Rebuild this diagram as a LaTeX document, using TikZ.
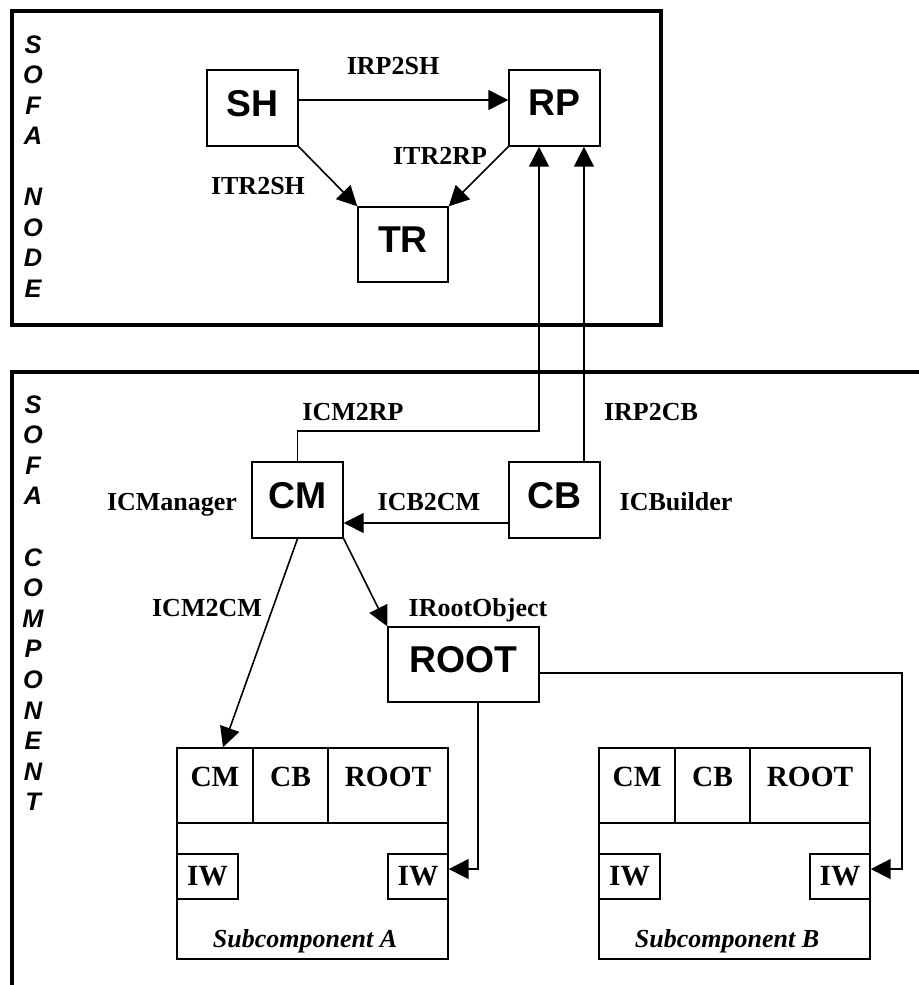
\documentclass[tikz,border=0pt]{standalone}
\usepackage{fontspec}
\setmainfont{Liberation Serif}
\setsansfont{Liberation Sans}
\usetikzlibrary{arrows.meta}
\begin{document}
\begin{tikzpicture}[x=0.75pt,y=-0.75pt,
  frame/.style={line width=3pt, line join=miter},
  bigbox/.style={draw, line width=1.1pt, rectangle, inner sep=0pt,
    font=\sffamily\bfseries\fontsize{28}{30}\selectfont, text depth=7.5pt},
  conn/.style={line width=1.2pt},
  arr/.style={conn, -{Triangle[length=15pt,width=15pt]}},
  lab/.style={font=\rmfamily\bfseries\fontsize{19.5}{22}\selectfont, anchor=base, inner sep=0pt},
  vlet/.style={font=\sffamily\bfseries\itshape\fontsize{19}{21}\selectfont, anchor=base, inner sep=0pt},
  cell/.style={draw, line width=1.1pt, inner sep=0pt,
    font=\rmfamily\bfseries\fontsize{22}{24}\selectfont},
  topcell/.style={cell, text depth=12.75pt, minimum height=56.25pt},
  iwbox/.style={cell, minimum height=33.75pt},
  subbox/.style={draw, line width=1.1pt, inner sep=0pt, minimum width=203.25pt, minimum height=158.25pt},
  sublab/.style={font=\rmfamily\bfseries\itshape\fontsize{19.5}{22}\selectfont, anchor=base, inner sep=0pt},
]
\useasboundingbox (0,0) rectangle (919,985);

% frames
\draw[frame] (12,11) rectangle (661,325);
\draw[frame] (919,372) -- (12,372) -- (12,985);

% vertical titles
\foreach \ch/\i in {S/0,O/1,F/2,A/3,N/5,O/6,D/7,E/8}
  \node[vlet] (vn\i) at (33,{53+\i*30.5}) {\ch};
\foreach \ch/\i in {S/0,O/1,F/2,A/3,C/5,O/6,M/7,P/8,O/9,N/10,E/11,N/12,T/13}
  \node[vlet] (vc\i) at (33,{413+\i*30.6}) {\ch};

% node boxes
\node[bigbox, minimum width=68.25pt, minimum height=57pt] (SH) at (252.5,108) {SH};
\node[bigbox, minimum width=68.25pt, minimum height=57pt] (RP) at (554.5,108) {RP};
\node[bigbox, minimum width=67.5pt, minimum height=56.25pt] (TR) at (403,244.5) {TR};
\node[bigbox, minimum width=68.25pt, minimum height=57pt] (CM) at (297.5,500) {CM};
\node[bigbox, minimum width=68.25pt, minimum height=57pt] (CB) at (554.5,500) {CB};
\node[bigbox, minimum width=113.25pt, minimum height=56.25pt] (ROOT) at (463.5,664.5) {ROOT};

% subcomponent A
\node[subbox] (subA) at (312.5,853.5) {};
\node[topcell, minimum width=57pt] (cmA) at (215,785.5) {CM};
\node[topcell, minimum width=56.25pt] (cbA) at (290.5,785.5) {CB};
\node[topcell, minimum width=90pt] (rootA) at (388,785.5) {ROOT};
\node[iwbox, minimum width=45.75pt] (iwA1) at (207.5,876.5) {IW};
\node[iwbox, minimum width=45pt] (iwA2) at (418,876.5) {IW};
\node[sublab] (labA) at (305,947) {Subcomponent A};

% subcomponent B
\node[subbox] (subB) at (734.5,853.5) {};
\node[topcell, minimum width=57pt] (cmB) at (637,785.5) {CM};
\node[topcell, minimum width=56.25pt] (cbB) at (712.5,785.5) {CB};
\node[topcell, minimum width=90pt] (rootB) at (810,785.5) {ROOT};
\node[iwbox, minimum width=45.75pt] (iwB1) at (629.5,876.5) {IW};
\node[iwbox, minimum width=45pt] (iwB2) at (840,876.5) {IW};
\node[sublab] (labB) at (727,947) {Subcomponent B};

% connector labels
\node[lab] (lIRP2SH) at (393,74) {IRP2SH};
\node[lab] (lITR2SH) at (258,194) {ITR2SH};
\node[lab] (lITR2RP) at (440,164) {ITR2RP};
\node[lab] (lICM2RP) at (353,420) {ICM2RP};
\node[lab] (lIRP2CB) at (651,420) {IRP2CB};
\node[lab] (lICManager) at (172,510) {ICManager};
\node[lab] (lICB2CM) at (429,510) {ICB2CM};
\node[lab] (lICBuilder) at (676,510) {ICBuilder};
\node[lab] (lICM2CM) at (207,616) {ICM2CM};
\node[lab] (lIRootObject) at (478,616) {IRootObject};

% connectors
\coordinate (rpin1) at ([xshift=-11.6pt]RP.south);
\coordinate (rpin2) at ([xshift=22.1pt]RP.south);
\coordinate (cmAin) at ([xshift=6pt]cmA.north);

\draw[arr] ([yshift=6pt]SH.east) -- ([yshift=6pt]RP.west);
\draw[arr] (SH.south east) -- (TR.north west);
\draw[arr] (RP.south west) -- (TR.north east);
\draw[arr] (CM.north) -- ++(0,-30) -| (rpin1);
\draw[arr] (CB.north -| rpin2) -- (rpin2);
\draw[arr] ([yshift=-17.25pt]CB.west) -- ([yshift=-17.25pt]CM.east);
\draw[arr] (CM.south east) -- (ROOT.north west);
\draw[arr] (CM.south) -- (cmAin);
\draw[arr] ([xshift=10.9pt]ROOT.south) |- ([yshift=5.6pt]iwA2.east);
\draw[arr] ([yshift=-6.4pt]ROOT.east) -- ++(362,0) |- ([yshift=5.6pt]iwB2.east);
\end{tikzpicture}
\end{document}
